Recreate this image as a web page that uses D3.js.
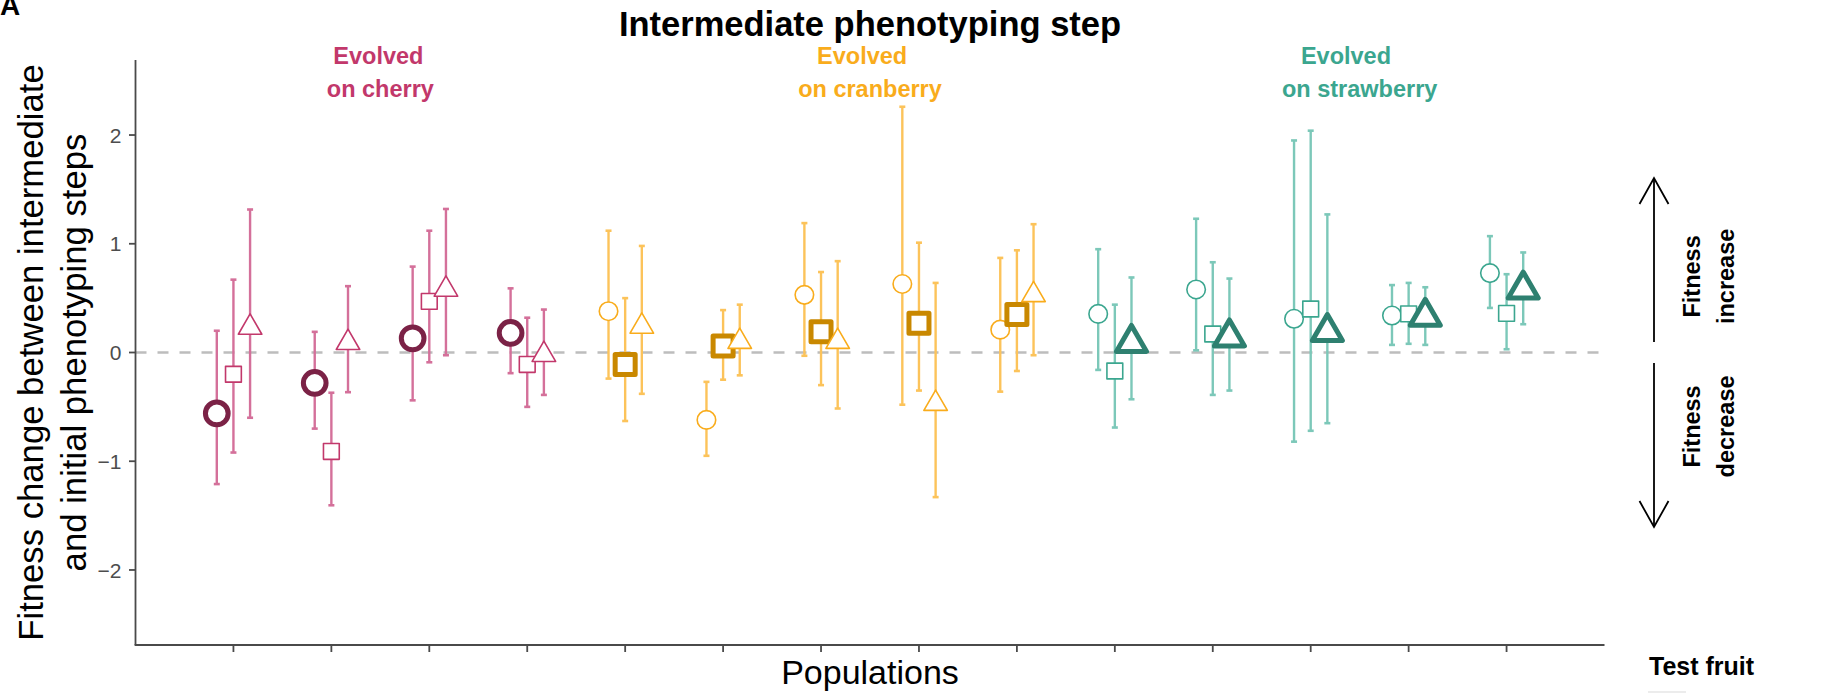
<!DOCTYPE html>
<html>
<head>
<meta charset="utf-8">
<script src="https://cdn.jsdelivr.net/npm/d3@7"></script>
<style>
  body { margin: 0; background: #fff; }
  svg { display: block; font-family: "Liberation Sans", Arial, sans-serif; }
</style>
</head>
<body>
<svg id="chart" width="1830" height="693"></svg>
<script>

// populations 1..14, grouped by the fruit they evolved on
const evolvedOn = ["cherry","cherry","cherry","cherry",
                   "cranberry","cranberry","cranberry","cranberry","cranberry",
                   "strawberry","strawberry","strawberry","strawberry","strawberry"];
const testFruits = ["cherry", "cranberry", "strawberry"];

// fitness change (mean and interval) on each test fruit
const meanCherry     = [-0.56, -0.28, 0.13, 0.18, 0.38, -0.62, 0.53, 0.63, 0.21, 0.355, 0.58, 0.31, 0.34, 0.73];
const lowCherry      = [-1.21, -0.70, -0.44, -0.19, -0.24, -0.95, -0.03, -0.48, -0.36, -0.16, 0.02, -0.82, 0.07, 0.41];
const highCherry     = [0.20, 0.19, 0.79, 0.59, 1.12, -0.27, 1.19, 2.26, 0.87, 0.95, 1.23, 1.95, 0.62, 1.07];

const meanCranberry  = [-0.20, -0.91, 0.47, -0.11, -0.11, 0.06, 0.19, 0.27, 0.35, -0.17, 0.17, 0.40, 0.355, 0.36];
const lowCranberry   = [-0.92, -1.405, -0.09, -0.50, -0.63, -0.25, -0.30, -0.35, -0.17, -0.69, -0.39, -0.72, 0.08, 0.03];
const highCranberry  = [0.67, -0.37, 1.12, 0.32, 0.50, 0.39, 0.74, 1.01, 0.94, 0.44, 0.83, 2.04, 0.64, 0.72];

const meanStrawberry = [0.23, 0.09, 0.58, -0.02, 0.24, 0.10, 0.10, -0.47, 0.53, 0.09, 0.14, 0.19, 0.33, 0.58];
const lowStrawberry  = [-0.60, -0.365, -0.025, -0.39, -0.38, -0.21, -0.515, -1.33, -0.025, -0.43, -0.35, -0.65, 0.07, 0.26];
const highStrawberry = [1.315, 0.61, 1.32, 0.395, 0.98, 0.44, 0.84, 0.64, 1.18, 0.69, 0.68, 1.27, 0.60, 0.92];

const yTicks = [-2, -1, 0, 1, 2];

// group annotations: text lines and x position (population units) of each line
const groupNames  = ["cherry", "cranberry", "strawberry"];
const groupLines  = [["Evolved", "on cherry"], ["Evolved", "on cranberry"], ["Evolved", "on strawberry"]];
const groupLabelX = [[2.48, 2.50], [7.42, 7.50], [12.36, 12.50]];


const colors = {
    cherry:     { line: "#c2386b", bold: "#7b2246", bar: "#d4709a" },
    cranberry:  { line: "#f9ac1c", bold: "#c98800", bar: "#fcc35a" },
    strawberry: { line: "#3ba68f", bold: "#2e8070", bar: "#7cc8b9" }
};

const svg = d3.select("#chart");

const x = d3.scaleLinear().domain([0, evolvedOn.length + 1]).range([135.5, 1604.5]);
const y = d3.scaleLinear().domain([-2.69, 2.69]).range([645, 60]);
const dodge = 0.17;

// long format
const means = [meanCherry, meanCranberry, meanStrawberry];
const lows  = [lowCherry, lowCranberry, lowStrawberry];
const highs = [highCherry, highCranberry, highStrawberry];
let points = [];
evolvedOn.forEach( function(ev, i){
    testFruits.forEach( function(tf, j){
        points.push({ pop: i + 1, evolved: ev, test: tf, k: j,
                      mean: means[j][i], low: lows[j][i], high: highs[j][i] });
    });
});
const px = d => x(d.pop + (d.k - 1) * dodge);

// zero line
svg.append("line")
    .attr("x1", x.range()[0]).attr("x2", x.range()[1])
    .attr("y1", y(0)).attr("y2", y(0))
    .attr("stroke", "#bdbdbd").attr("stroke-width", 2.6)
    .attr("stroke-dasharray", "11,11");

// error bars
let gbar = svg.append("g");
points.forEach( function(d){
    let c = colors[d.evolved].bar;
    gbar.append("line")
        .attr("x1", px(d)).attr("x2", px(d))
        .attr("y1", y(d.low)).attr("y2", y(d.high))
        .attr("stroke", c).attr("stroke-width", 2.4);
    [d.low, d.high].forEach( function(v){
        gbar.append("line")
            .attr("x1", px(d) - 3).attr("x2", px(d) + 3)
            .attr("y1", y(v)).attr("y2", y(v))
            .attr("stroke", c).attr("stroke-width", 2.6);
    });
});

// points: shape = test fruit, bold when test fruit is the fruit of origin
const shapes = { cherry: d3.symbolCircle, cranberry: d3.symbolSquare, strawberry: d3.symbolTriangle };
const thinSize = { cherry: 269, cranberry: 250, strawberry: 239 };
const boldSize = { cherry: 405, cranberry: 400, strawberry: 390 };

svg.append("g").selectAll("path")
    .data(points)
    .enter().append("path")
    .attr("transform", d => "translate(" + px(d) + "," + y(d.mean) + ")")
    .attr("d", function(d){
        let home = d.test == d.evolved;
        return d3.symbol().type(shapes[d.test]).size(home ? boldSize[d.test] : thinSize[d.test])();
    })
    .attr("fill", "white")
    .attr("stroke", d => d.test == d.evolved ? colors[d.evolved].bold : colors[d.evolved].line)
    .attr("stroke-width", d => d.test == d.evolved ? 5 : 1.6)
    .attr("stroke-linejoin", "round");

// axes
const axisColor = "#4a4a4a";
svg.append("line")
    .attr("x1", x.range()[0]).attr("x2", x.range()[0])
    .attr("y1", y.range()[1]).attr("y2", y.range()[0])
    .attr("stroke", axisColor).attr("stroke-width", 1.8);
svg.append("line")
    .attr("x1", x.range()[0] - 0.9).attr("x2", x.range()[1])
    .attr("y1", y.range()[0]).attr("y2", y.range()[0])
    .attr("stroke", axisColor).attr("stroke-width", 1.8);

let gy = svg.append("g");
yTicks.forEach( function(t){
    gy.append("line")
        .attr("x1", x.range()[0] - 6.5).attr("x2", x.range()[0])
        .attr("y1", y(t)).attr("y2", y(t))
        .attr("stroke", axisColor).attr("stroke-width", 1.8);
    gy.append("text")
        .attr("x", x.range()[0] - 14).attr("y", y(t))
        .attr("dy", "0.36em")
        .attr("text-anchor", "end")
        .style("font-size", "21px")
        .style("fill", "#4d4d4d")
        .text(t < 0 ? "\u2212" + Math.abs(t) : String(t));
});

let gx = svg.append("g");
d3.range(1, evolvedOn.length + 1).forEach( function(p){
    gx.append("line")
        .attr("x1", x(p)).attr("x2", x(p))
        .attr("y1", y.range()[0]).attr("y2", y.range()[0] + 7)
        .attr("stroke", axisColor).attr("stroke-width", 1.8);
});

const midX = (x.range()[0] + x.range()[1]) / 2;
const midY = (y.range()[0] + y.range()[1]) / 2;

svg.append("text")
    .attr("x", midX).attr("y", 684)
    .attr("text-anchor", "middle")
    .style("font-size", "34px")
    .text("Populations");

let ytitle = svg.append("text")
    .attr("transform", "translate(43," + midY + ") rotate(-90)")
    .attr("text-anchor", "middle")
    .style("font-size", "34.7px");
ytitle.append("tspan").attr("x", 0).attr("y", 0).text("Fitness change between intermediate");
ytitle.append("tspan").attr("x", 0).attr("y", 42.5).text("and initial phenotyping steps");

// title and panel tag
svg.append("text")
    .attr("x", midX).attr("y", 36)
    .attr("text-anchor", "middle")
    .style("font-size", "34.5px").style("font-weight", "bold")
    .text("Intermediate phenotyping step");

svg.append("text")
    .attr("x", 0).attr("y", 15)
    .style("font-size", "28px").style("font-weight", "bold")
    .text("A");

// group labels
groupNames.forEach( function(g, i){
    groupLines[i].forEach( function(line, j){
        svg.append("text")
            .attr("x", x(groupLabelX[i][j])).attr("y", 64 + j * 33)
            .attr("text-anchor", "middle")
            .style("font-size", "23.5px").style("font-weight", "bold")
            .style("fill", colors[g].line)
            .text(line);
    });
});

// direction arrows
function arrow( from, to ){
    let ax = 1654;
    let dir = to > from ? 1 : -1;
    let g = svg.append("g").attr("stroke", "black").attr("stroke-width", 1.8).attr("fill", "none");
    g.append("line").attr("x1", ax).attr("x2", ax).attr("y1", y(from)).attr("y2", y(to));
    g.append("path")
        .attr("d", "M" + (ax - 14.5) + "," + (y(to) + dir * 26) + "L" + ax + "," + y(to) + "L" + (ax + 14.5) + "," + (y(to) + dir * 26));
}
arrow(0.097, 1.605);
arrow(-0.097, -1.605);

function sideLabel( v, lines ){
    let t = svg.append("text")
        .attr("transform", "translate(1700," + y(v) + ") rotate(-90)")
        .attr("text-anchor", "middle")
        .style("font-size", "23.5px").style("font-weight", "bold");
    t.append("tspan").attr("x", 0).attr("y", 0).text(lines[0]);
    t.append("tspan").attr("x", 0).attr("y", 33.5).text(lines[1]);
}
sideLabel(0.70, ["Fitness", "increase"]);
sideLabel(-0.68, ["Fitness", "decrease"]);

// legend title (legend itself falls outside the figure)
svg.append("text")
    .attr("x", 1649).attr("y", 675)
    .style("font-size", "25px").style("font-weight", "bold")
    .text("Test fruit");
svg.append("rect")
    .attr("x", 1648).attr("y", 691).attr("width", 38).attr("height", 2)
    .attr("fill", "#ececec");

</script>
</body>
</html>
